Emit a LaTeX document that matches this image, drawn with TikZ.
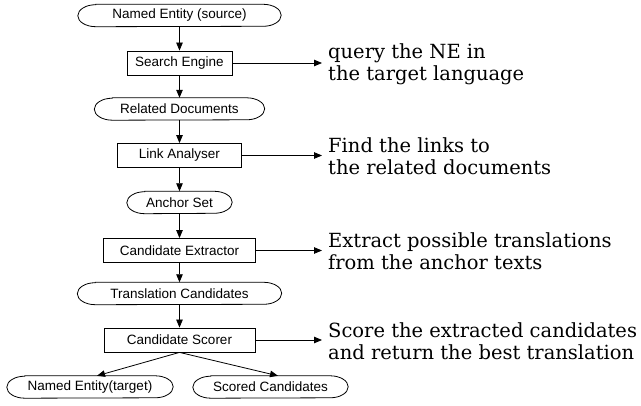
\documentclass[tikz,border=0pt]{standalone}
\usepackage{fontspec}
\setmainfont{Liberation Sans}
\newfontfamily\descfont{DejaVu Serif}
\usetikzlibrary{arrows.meta}
\newcommand\ovaldraw[1]{%
  \draw[line width=0.8pt] ([xshift=18pt]#1.north west) -- ([xshift=-18pt]#1.north east)
    arc[start angle=90,end angle=-90,x radius=18pt,y radius=11pt]
    -- ([xshift=18pt]#1.south west)
    arc[start angle=270,end angle=90,x radius=18pt,y radius=11pt] -- cycle;}
\begin{document}
\begin{tikzpicture}[x=1pt,y=1pt,
  lbl/.style={inner sep=0pt, font=\fontsize{13.5}{16}\selectfont},
  box/.style={lbl, draw, line width=0.8pt, minimum height=24pt},
  ovalnode/.style={lbl, minimum height=22pt},
  arr/.style={line width=0.8pt, -{Triangle[length=8pt,width=6.5pt]}},
  desc/.style={anchor=west, align=left, inner sep=0pt, font=\descfont\fontsize{19.5}{22}\selectfont}]
\useasboundingbox (0,0) rectangle (641,405);

\node[ovalnode, minimum width=203pt] (ne) at (179.5,389.5) {Named Entity (source)};
\node[box, minimum width=105pt] (se) at (179.5,342) {Search Engine};
\node[ovalnode, minimum width=170pt] (rd) at (179.5,296) {Related Documents};
\node[box, minimum width=124pt] (la) at (179.5,249.5) {Link Analyser};
\node[ovalnode, minimum width=105pt] (as) at (179.5,202.5) {Anchor Set};
\node[box, minimum width=152pt] (ce) at (179.5,154.5) {Candidate Extractor};
\node[ovalnode, minimum width=204pt] (tc) at (179.5,111.5) {Translation Candidates};
\node[box, minimum width=151pt] (cs) at (179.5,65) {Candidate Scorer};
\node[ovalnode, minimum width=166pt] (net) at (90,18) {Named Entity(target)};
\node[ovalnode, minimum width=155pt] (sco) at (270.5,18) {Scored Candidates};

\foreach \n in {ne,rd,as,tc,net,sco} {\ovaldraw{\n}}

\draw[arr] (ne) -- (se);
\draw[arr] (se) -- (rd);
\draw[arr] (rd) -- (la);
\draw[arr] (la) -- (as);
\draw[arr] (as) -- (ce);
\draw[arr] (ce) -- (tc);
\draw[arr] (tc) -- (cs);
\draw[arr] (cs.south) -- ([xshift=7pt]net.north);
\draw[arr] (cs.south) -- ([xshift=7.5pt]sco.north);

\coordinate (e1) at (322,342);
\coordinate (e2) at (322,249.5);
\coordinate (e3) at (322,154.5);
\coordinate (e4) at (322,65);
\draw[arr] (se.east) -- (e1);
\draw[arr] (la.east) -- (e2);
\draw[arr] (ce.east) -- (e3);
\draw[arr] (cs.east) -- (e4);

\node[desc] (d1) at (328,341) {query the NE in\\the target language};
\node[desc] (d2) at (328,248.5) {Find the links to\\the related documents};
\node[desc] (d3) at (328,153.5) {Extract possible translations\\from the anchor texts};
\node[desc] (d4) at (328,64) {Score the extracted candidates\\and return the best translation};
\end{tikzpicture}
\end{document}
